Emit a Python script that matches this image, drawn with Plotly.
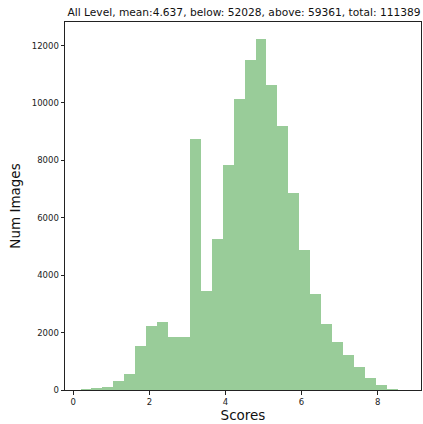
import plotly.graph_objects as go

# Histogram bins (left edges) and counts
bin_left = [0.19, 0.4775, 0.765, 1.0525, 1.34, 1.6275, 1.915, 2.2025, 2.49, 2.7775,
            3.065, 3.3525, 3.64, 3.9275, 4.215, 4.5025, 4.79, 5.0775, 5.365, 5.6525,
            5.94, 6.2275, 6.515, 6.8025, 7.09, 7.3775, 7.665, 7.9525, 8.24]
bin_width = 0.2875
counts = [35, 60, 115, 300, 560, 1535, 2245, 2385, 1850, 1835,
          8755, 3440, 5270, 7850, 10150, 11510, 12230, 10640, 9210, 6870,
          4880, 3350, 2300, 1680, 1230, 790, 425, 175, 35]

x_ticks = [0, 2, 4, 6, 8]
y_ticks = [0, 2000, 4000, 6000, 8000, 10000, 12000]
title_text = "All Level, mean:4.637, below: 52028, above: 59361, total: 111389"

centers = [b + bin_width / 2 for b in bin_left]

fig = go.Figure(go.Bar(
    x=centers, y=counts, width=[bin_width] * len(counts),
    marker=dict(color="#99cc99", line=dict(width=0)),
    hoverinfo="x+y",
))

font_family = "DejaVu Sans, sans-serif"
axis_common = dict(
    showline=True, linecolor="#222222", linewidth=1, mirror=True,
    ticks="outside", ticklen=3.5, tickwidth=0.8, tickcolor="#222222",
    showgrid=False, zeroline=False,
    tickfont=dict(family=font_family, size=8.5, color="#222222"),
)

W, H = 423, 424
fig.update_layout(
    width=W, height=H,
    margin=dict(l=65, r=2, t=22, b=34, autoexpand=False),
    paper_bgcolor="white", plot_bgcolor="white",
    bargap=0, showlegend=False,
    title=dict(text=title_text, x=244 / W, xanchor="center",
               y=1 - 12.5 / H, yanchor="middle",
               font=dict(family=font_family, size=10.65, color="#111111")),
    xaxis=dict(range=[-0.218, 9.14], tickvals=x_ticks, ticktext=[str(t) for t in x_ticks],
               title=dict(text="Scores", standoff=1,
                          font=dict(family=font_family, size=13.5, color="#111111")),
               **axis_common),
    yaxis=dict(range=[0, 12820], tickvals=y_ticks, ticktext=[str(t) for t in y_ticks],
               title=dict(text="Num Images", standoff=8,
                          font=dict(family=font_family, size=13.5, color="#111111")),
               **axis_common),
)

# remove the page's default body margin so the figure fills the window exactly
fig.write_html("out.html",
               config={"displayModeBar": False},
               post_script="document.body.style.margin='0';document.body.style.overflow='hidden';")
